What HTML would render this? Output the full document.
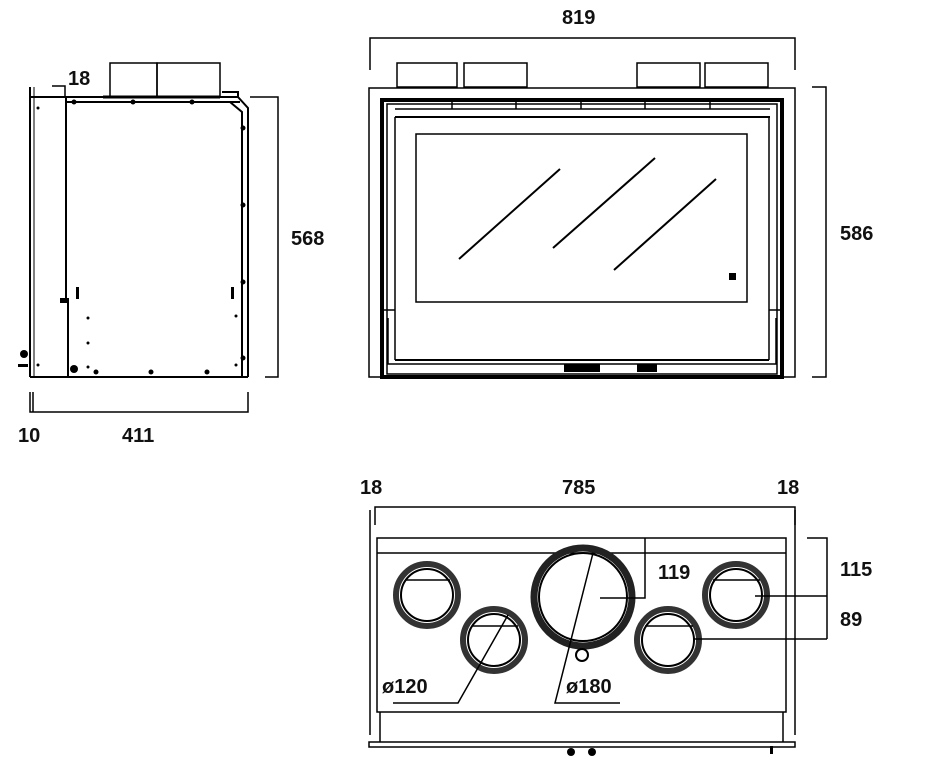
<!DOCTYPE html>
<html><head><meta charset="utf-8"><style>
html,body{margin:0;padding:0;background:#fff;}
svg{display:block;}
text{font-family:"Liberation Sans",sans-serif;font-weight:bold;font-size:20px;fill:#111;stroke:none;}
</style></head><body>
<svg width="942" height="768" viewBox="0 0 942 768" xmlns="http://www.w3.org/2000/svg" fill="none" stroke="#000" stroke-width="2">
<!-- SIDE VIEW -->
<rect x="110" y="63" width="47" height="34" stroke-width="1.5"/>
<rect x="157" y="63" width="63" height="34" stroke-width="1.5"/>
<line x1="103" y1="97" x2="220" y2="97" stroke-width="3"/>
<line x1="30" y1="87" x2="30" y2="377" stroke-width="2"/>
<line x1="34" y1="87" x2="34" y2="377" stroke-width="1"/>
<line x1="30" y1="97" x2="238" y2="97"/>
<line x1="66" y1="102" x2="240" y2="102"/>
<line x1="66" y1="97" x2="66" y2="300"/>
<line x1="68" y1="300" x2="68" y2="377"/>
<rect x="61" y="299" width="7" height="3" fill="#000"/>
<path d="M222 92 L238 92 L238 97 L248 108 L248 377"/>
<path d="M230 102 L242 112 L242 377"/>
<line x1="30" y1="377" x2="248" y2="377"/>
<g fill="#000" stroke="none">
<circle cx="74" cy="102" r="2.5"/><circle cx="133" cy="102" r="2.5"/><circle cx="192" cy="102" r="2.5"/>
<circle cx="243" cy="128" r="2.5"/><circle cx="243" cy="205" r="2.5"/><circle cx="243" cy="282" r="2.5"/><circle cx="243" cy="358" r="2.5"/>
<circle cx="96" cy="372" r="2.5"/><circle cx="151" cy="372" r="2.5"/><circle cx="207" cy="372" r="2.5"/>
<circle cx="38" cy="108" r="1.5"/><circle cx="38" cy="365" r="1.5"/>
<circle cx="88" cy="318" r="1.5"/><circle cx="88" cy="343" r="1.5"/><circle cx="88" cy="367" r="1.5"/>
<circle cx="236" cy="316" r="1.5"/><circle cx="236" cy="365" r="1.5"/>
<rect x="76" y="287" width="3" height="12"/><rect x="231" y="287" width="3" height="12"/>
<circle cx="74" cy="369" r="4"/><circle cx="24" cy="354" r="4"/><rect x="18" y="364" width="10" height="3"/>
</g>
<path d="M52 86 L65 86 L65 97" stroke-width="1.5"/>
<text x="68" y="85">18</text>
<path d="M250 97 L278 97 L278 377 L265 377" stroke-width="1.5"/>
<text x="291" y="245">568</text>
<path d="M30 392 L30 412 L248 412 L248 392 M33 392 L33 412" stroke-width="1.5"/>
<text x="18" y="442">10</text>
<text x="122" y="442">411</text>

<!-- FRONT VIEW -->
<path d="M370 70 L370 38 L795 38 L795 70" stroke-width="1.5"/>
<text x="562" y="24">819</text>
<rect x="397" y="63" width="60" height="24" stroke-width="1.5"/>
<rect x="464" y="63" width="63" height="24" stroke-width="1.5"/>
<rect x="637" y="63" width="63" height="24" stroke-width="1.5"/>
<rect x="705" y="63" width="63" height="24" stroke-width="1.5"/>
<rect x="369" y="88" width="426" height="289" stroke-width="1.5"/>
<rect x="382" y="100" width="400" height="277" stroke-width="4"/>
<rect x="387" y="104" width="390" height="270" stroke-width="1.5"/>
<line x1="395" y1="109" x2="770" y2="109" stroke-width="1.5"/>
<line x1="395" y1="117" x2="770" y2="117" stroke-width="2"/>
<g stroke-width="1.5"><line x1="452" y1="100" x2="452" y2="109"/><line x1="516" y1="100" x2="516" y2="109"/><line x1="581" y1="100" x2="581" y2="109"/><line x1="645" y1="100" x2="645" y2="109"/><line x1="710" y1="100" x2="710" y2="109"/></g>
<line x1="395" y1="117" x2="395" y2="360" stroke-width="1.5"/>
<line x1="769" y1="117" x2="769" y2="360" stroke-width="1.5"/>
<rect x="416" y="134" width="331" height="168" stroke-width="1.5"/>
<line x1="459" y1="259" x2="560" y2="169" stroke-width="2"/>
<line x1="553" y1="248" x2="655" y2="158" stroke-width="2"/>
<line x1="614" y1="270" x2="716" y2="179" stroke-width="2"/>
<rect x="729" y="273" width="7" height="7" fill="#000" stroke="none"/>
<line x1="382" y1="310" x2="395" y2="310" stroke-width="1.5"/>
<line x1="769" y1="310" x2="782" y2="310" stroke-width="1.5"/>
<path d="M388 318 L388 364 L776 364 L776 318" stroke-width="1.5"/>
<line x1="395" y1="360" x2="769" y2="360" stroke-width="2"/>
<rect x="564" y="364" width="36" height="8" fill="#000" stroke="none"/>
<rect x="637" y="364" width="20" height="8" fill="#000" stroke="none"/>
<path d="M812 87 L826 87 L826 377 L812 377" stroke-width="1.5"/>
<text x="840" y="240">586</text>

<!-- BOTTOM VIEW -->
<path d="M375 525 L375 507 L795 507 L795 525" stroke-width="1.5"/>
<line x1="370" y1="510" x2="370" y2="735" stroke-width="1.5"/>
<line x1="795" y1="510" x2="795" y2="735" stroke-width="1.5"/>
<text x="360" y="494">18</text>
<text x="562" y="494">785</text>
<text x="777" y="494">18</text>
<rect x="377" y="538" width="409" height="174" stroke-width="1.5"/>
<line x1="377" y1="553" x2="786" y2="553" stroke-width="1.5"/>
<path d="M380 712 L380 742 M783 712 L783 742" stroke-width="1.5"/>
<rect x="369" y="742" width="426" height="5" stroke-width="1.5"/>
<g fill="#000" stroke="none"><circle cx="571" cy="752" r="4"/><circle cx="592" cy="752" r="4"/><rect x="770" y="746" width="3" height="8"/></g>
<g>
<circle cx="427" cy="595" r="31" stroke-width="6" stroke="#333"/><circle cx="427" cy="595" r="26" stroke-width="2"/>
<circle cx="494" cy="640" r="31" stroke-width="6" stroke="#333"/><circle cx="494" cy="640" r="26" stroke-width="2"/>
<circle cx="583" cy="597" r="49" stroke-width="7" stroke="#222"/><circle cx="583" cy="597" r="44" stroke-width="2"/>
<circle cx="668" cy="640" r="31" stroke-width="6" stroke="#333"/><circle cx="668" cy="640" r="26" stroke-width="2"/>
<circle cx="736" cy="595" r="31" stroke-width="6" stroke="#333"/><circle cx="736" cy="595" r="26" stroke-width="2"/>
<circle cx="582" cy="655" r="6" stroke-width="2"/>
</g>
<g stroke-width="1.5">
<line x1="405" y1="580" x2="450" y2="580"/>
<line x1="472" y1="626" x2="518" y2="626"/>
<line x1="645" y1="626" x2="693" y2="626"/>
<line x1="713" y1="580" x2="760" y2="580"/>
<path d="M600 598 L645 598 L645 538"/>
<path d="M755 596 L827 596 M693 639 L827 639 M807 538 L827 538 L827 639"/>
<path d="M393 703 L458 703 L508 615"/>
<path d="M620 703 L555 703 L593 553"/>
</g>
<text x="382" y="693">ø120</text>
<text x="566" y="693">ø180</text>
<text x="658" y="579">119</text>
<text x="840" y="576">115</text>
<text x="840" y="626">89</text>
</svg>
</body></html>
